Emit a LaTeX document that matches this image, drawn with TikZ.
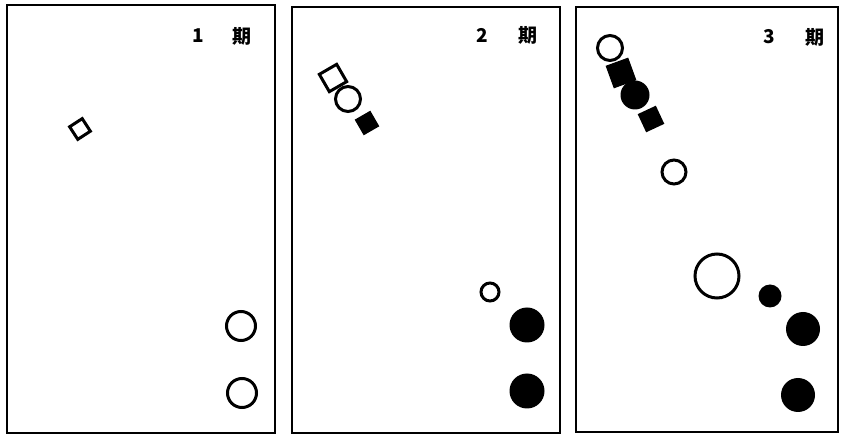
\documentclass[tikz,border=0pt]{standalone}
\usepackage{fontspec}
\newfontfamily\jpfont{Noto Sans CJK JP}
\usetikzlibrary{positioning}

\begin{document}
\begin{tikzpicture}[
  x=1pt, y=-1pt,
  panel/.style={draw=black, line width=2.2pt},
  period/.style={font=\jpfont\bfseries\fontsize{19}{19}\selectfont, inner sep=0pt},
  opencirc/.style={circle, draw=black, line width=3pt, inner sep=0pt},
  fillcirc/.style={circle, fill=black, inner sep=0pt},
  opensq/.style={rectangle, draw=black, line width=3pt, inner sep=0pt},
  fillsq/.style={rectangle, fill=black, inner sep=0pt}
]
\useasboundingbox (0,0) rectangle (841,435);

% three periods
\draw [panel] (7,5) rectangle (275,433);
\draw [panel] (292,7) rectangle (560,433);
\draw [panel] (576,7) rectangle (838,432);

\node (n1) [period] at (198,36) {1};
\node (p1) [period] at (242,36) {期};
\node (n2) [period] at (482,35) {2};
\node (p2) [period] at (528,35) {期};
\node (n3) [period] at (769,37) {3};
\node (p3) [period] at (815,37) {期};

% period 1
\node (a1) [opensq, minimum size=15pt, rotate=33] at (80,129) {};
\node (a2) [opencirc, minimum size=29pt] at (241,326) {};
\node (a3) [opencirc, minimum size=29pt] at (242,393) {};

% period 2
\node (b1) [opensq, minimum size=20pt, rotate=30] at (333,78) {};
\node (b2) [opencirc, minimum size=25pt] at (348,99) {};
\node (b3) [fillsq, minimum size=18pt, rotate=30] at (367,123) {};
\node (b4) [opencirc, minimum size=18pt] at (490,292) {};
\node (b5) [fillcirc, minimum size=35pt] at (527,325) {};
\node (b6) [fillcirc, minimum size=35pt] at (527,391) {};

% period 3
\node (c1) [opencirc, minimum size=25pt] at (610,48) {};
\node (c2) [fillsq, minimum size=24pt, rotate=20] at (621,73) {};
\node (c3) [fillcirc, minimum size=29pt] at (635,95) {};
\node (c4) [fillsq, minimum size=20pt, rotate=25] at (651,119) {};
\node (c5) [opencirc, minimum size=24pt] at (674,172) {};
\node (c6) [opencirc, minimum size=44pt] at (717,276) {};
\node (c7) [fillcirc, minimum size=23pt] at (770,296) {};
\node (c8) [fillcirc, minimum size=34pt] at (803,329) {};
\node (c9) [fillcirc, minimum size=34pt] at (798,395) {};
\end{tikzpicture}
\end{document}
